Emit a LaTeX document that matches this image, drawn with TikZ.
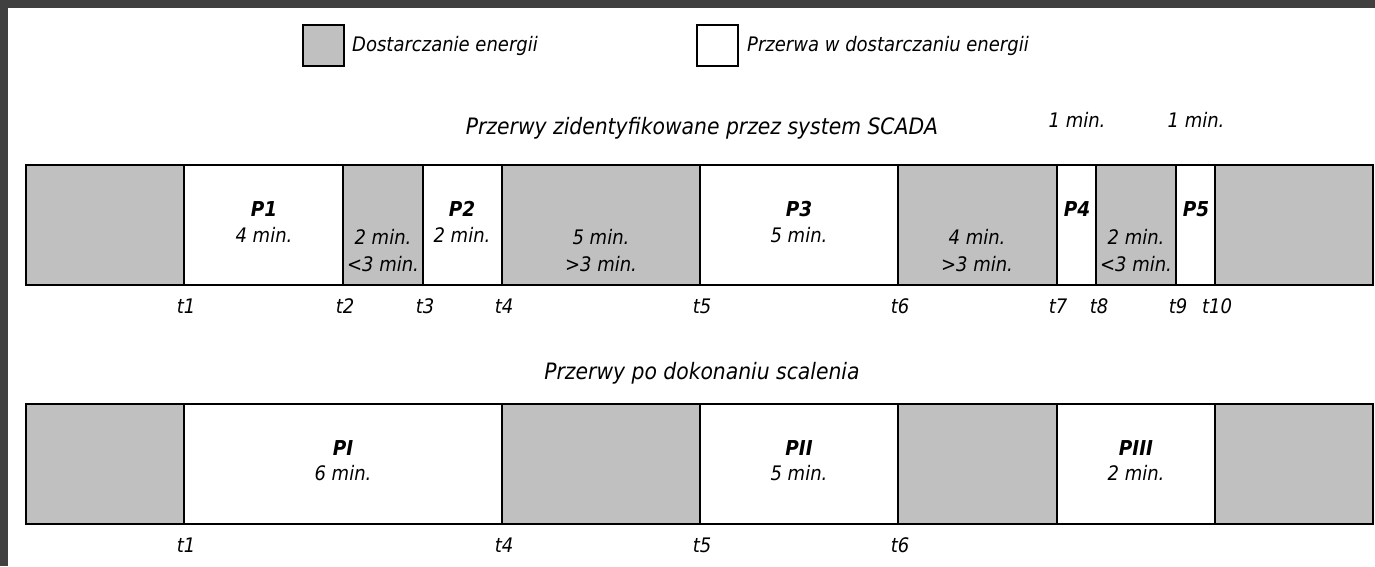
\documentclass[tikz,border=0pt]{standalone}
\usepackage{fontspec}
\setmainfont{DejaVu Sans Condensed}
\definecolor{fillgray}{HTML}{C0C0C0}
\definecolor{framegray}{HTML}{404040}
\begin{document}
\begin{tikzpicture}[x=1pt,y=-1pt,
  seg/.style={draw=black,line width=1.8pt,inner sep=0pt,outer sep=0pt},
  on/.style={seg,fill=fillgray},
  off/.style={seg,fill=white},
  txt/.style={font=\fontsize{20}{22}\selectfont\itshape,inner sep=0pt},
  ttl/.style={font=\fontsize{22.6}{25}\selectfont\itshape,inner sep=0pt},
  bold/.style={font=\fontsize{20.5}{22}\selectfont\bfseries\itshape,inner sep=0pt}]
\useasboundingbox (0,0) rectangle (1375,566);
\fill[white] (0,0) rectangle (1375,566);
\fill[framegray] (0,0) rectangle (1375,8);
\fill[framegray] (0,0) rectangle (8,566);
% legend
\draw[on] (303,25) rectangle (344,66) node[midway] (legon) {};
\node[txt,anchor=west] (legontxt) at (352,46) {Dostarczanie energii};
\draw[off] (697,25) rectangle (738,66) node[midway] (legoff) {};
\node[txt,anchor=west] (legofftxt) at (747,46) {Przerwa w dostarczaniu energii};
% row 1
\node[ttl] (title1) at (702,128) {Przerwy zidentyfikowane przez system SCADA};
\draw[on]  (26,165) rectangle (184,285);
\draw[off] (184,165) rectangle (343,285);
\draw[on]  (343,165) rectangle (423,285);
\draw[off] (423,165) rectangle (502,285);
\draw[on]  (502,165) rectangle (700,285);
\draw[off] (700,165) rectangle (898,285);
\draw[on]  (898,165) rectangle (1057,285);
\draw[off] (1057,165) rectangle (1096,285);
\draw[on]  (1096,165) rectangle (1176,285);
\draw[off] (1176,165) rectangle (1215,285);
\draw[on]  (1215,165) rectangle (1373,285);
\node[bold] (p1) at (264,209) {P1};
\node[txt] (p1d) at (264,235) {4 min.};
\node[txt] (g1a) at (383,237) {2 min.};
\node[txt] (g1b) at (383,264) {<3 min.};
\node[bold] (p2) at (462,209) {P2};
\node[txt] (p2d) at (462,235) {2 min.};
\node[txt] (g2a) at (601,237) {5 min.};
\node[txt] (g2b) at (601,264) {>3 min.};
\node[bold] (p3) at (799,209) {P3};
\node[txt] (p3d) at (799,235) {5 min.};
\node[txt] (g3a) at (977,237) {4 min.};
\node[txt] (g3b) at (977,264) {>3 min.};
\node[bold] (p4) at (1077,209) {P4};
\node[txt] (p4d) at (1077,120) {1 min.};
\node[txt] (g4a) at (1136,237) {2 min.};
\node[txt] (g4b) at (1136,264) {<3 min.};
\node[bold] (p5) at (1196,209) {P5};
\node[txt] (p5d) at (1196,120) {1 min.};
\foreach \n/\x in {t1/186,t2/345,t3/425,t4/504,t5/702,t6/900,t7/1058,t8/1099,t9/1178,t10/1217}
  \node[txt] (a\n) at (\x,306) {\n};
% row 2
\node[ttl] (title2) at (702,373) {Przerwy po dokonaniu scalenia};
\draw[on]  (26,404) rectangle (184,524);
\draw[off] (184,404) rectangle (502,524);
\draw[on]  (502,404) rectangle (700,524);
\draw[off] (700,404) rectangle (898,524);
\draw[on]  (898,404) rectangle (1057,524);
\draw[off] (1057,404) rectangle (1215,524);
\draw[on]  (1215,404) rectangle (1373,524);
\node[bold] (pI) at (343,448) {PI};
\node[txt] (pId) at (343,473) {6 min.};
\node[bold] (pII) at (799,448) {PII};
\node[txt] (pIId) at (799,473) {5 min.};
\node[bold] (pIII) at (1136,448) {PIII};
\node[txt] (pIIId) at (1136,473) {2 min.};
\foreach \n/\x in {t1/186,t4/504,t5/702,t6/900}
  \node[txt] (b\n) at (\x,545) {\n};
\end{tikzpicture}
\end{document}
